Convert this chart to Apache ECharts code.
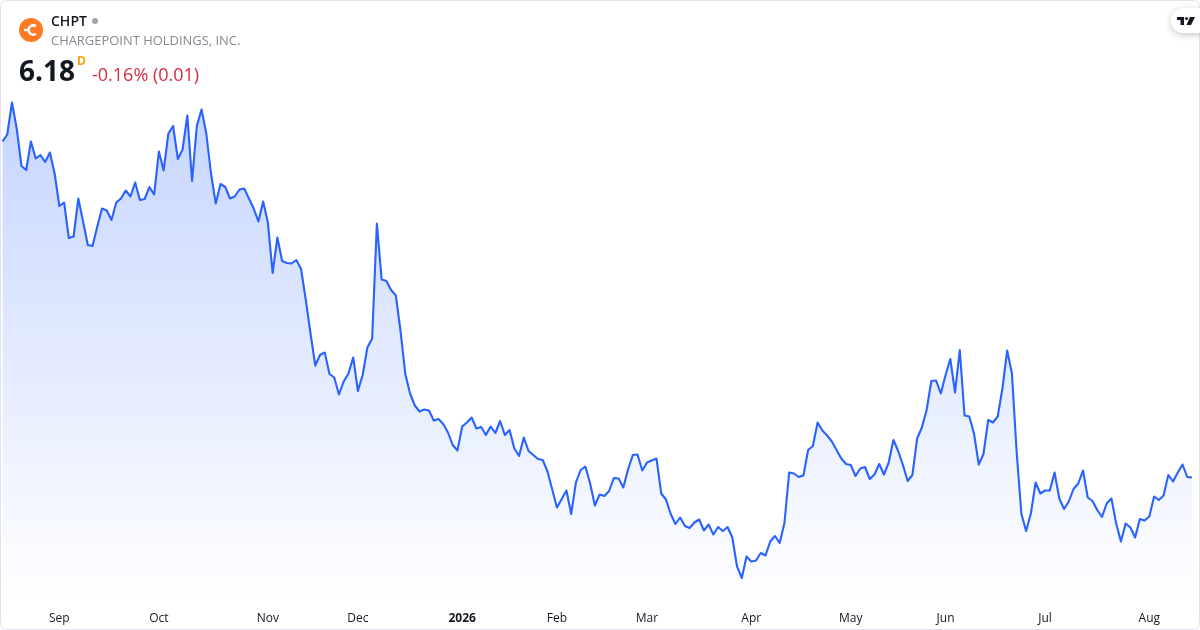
<!DOCTYPE html>
<html><head><meta charset="utf-8">
<style>html,body{margin:0;padding:0;background:#fff}#c{width:1200px;height:630px}</style>
<script src="https://cdn.jsdelivr.net/npm/echarts@6/dist/echarts.min.js"></script>
</head><body><div id="c"></div>
<script>
const ticker = 'CHPT';
const companyName = 'CHARGEPOINT HOLDINGS, INC.';
const lastPrice = '6.18';
const changeText = '-0.16% (0.01)';
const tickLabels = ['Sep','Oct','Nov','Dec','2026','Feb','Mar','Apr','May','Jun','Jul','Aug'];
const tickIndexes = [12,33,56,75,97,117,136,158,179,199,220,242];
const closes = [
12.90,13.04,13.68,13.16,12.41,12.33,12.90,12.56,12.63,12.49,12.68,12.26,
11.61,11.68,10.97,11.00,11.76,11.30,10.83,10.81,11.20,11.56,11.52,11.33,11.68,11.76,11.92,11.80,12.08,11.73,11.75,11.99,11.84,
12.70,12.32,13.06,13.21,12.55,12.74,13.42,12.11,13.21,13.54,13.06,12.26,11.66,12.05,11.99,11.76,11.80,11.94,11.96,11.76,11.56,11.30,11.70,
11.28,10.27,10.98,10.51,10.47,10.46,10.53,10.35,9.73,9.06,8.42,8.63,8.68,8.25,8.18,7.84,8.10,8.26,8.58,
7.91,8.23,8.78,8.96,11.26,10.14,10.11,9.93,9.82,9.10,8.25,7.86,7.62,7.50,7.54,7.52,7.32,7.35,7.25,7.08,6.83,6.72,
7.20,7.28,7.38,7.16,7.19,7.03,7.20,7.07,7.31,7.03,7.13,6.76,6.61,6.98,6.71,6.63,6.55,6.53,6.30,5.94,
5.58,5.75,5.92,5.45,6.08,6.33,6.40,6.06,5.62,5.84,5.81,5.91,6.17,6.16,5.98,6.34,6.63,6.64,6.32,
6.48,6.52,6.56,5.86,5.74,5.45,5.25,5.38,5.21,5.17,5.28,5.34,5.12,5.24,5.04,5.19,5.11,5.19,4.98,4.40,4.17,4.60,
4.50,4.52,4.67,4.62,4.90,5.01,4.87,5.27,6.28,6.26,6.19,6.22,6.73,6.81,7.28,7.12,7.02,6.90,6.73,6.56,6.45,
6.43,6.21,6.36,6.39,6.15,6.24,6.45,6.24,6.48,6.93,6.71,6.43,6.11,6.23,6.96,7.18,7.53,8.11,8.12,7.86,
8.23,8.55,7.88,8.73,7.42,7.40,7.06,6.44,6.65,7.33,7.28,7.40,7.96,8.72,8.26,6.69,5.45,5.11,5.46,6.08,5.86,
5.92,5.92,6.28,5.76,5.55,5.70,5.95,6.06,6.32,5.78,5.71,5.53,5.39,5.66,5.76,5.26,4.90,5.26,5.18,4.98,5.35,5.32,
5.40,5.80,5.73,5.82,6.23,6.10,6.28,6.44,6.19,6.18
];
const categories = closes.map((_, i) => {
  const k = tickIndexes.indexOf(i);
  return k >= 0 ? tickLabels[k] : '';
});
const chart = echarts.init(document.getElementById('c'), null, {renderer:'canvas', width:1200, height:630});
const FONT = '"Open Sans","Noto Sans",sans-serif';
chart.setOption({
  animation:false,
  backgroundColor:'#ffffff',
  grid:{left:2.5, right:8, top:0, height:602, containLabel:false},
  tooltip:{show:false},
  xAxis:{
    type:'category', data:categories, boundaryGap:false,
    axisLine:{show:false}, axisTick:{show:false}, splitLine:{show:false},
    axisLabel:{
      show:true, margin:11, color:'#131722', fontFamily:FONT, fontSize:12, hideOverlap:false,
      interval:(i, v) => v !== '',
      formatter:v => v === '2026' ? '{b|2026}' : v,
      rich:{b:{fontWeight:'bold', color:'#131722', fontFamily:FONT, fontSize:12}}
    }
  },
  yAxis:{type:'value', min:3.69, max:15.73, show:false, splitLine:{show:false}},
  series:[{
    type:'line', data:closes, showSymbol:false, smooth:false, silent:true,
    lineStyle:{color:'#2962ff', width:2.1, join:'round'},
    areaStyle:{origin:'start', color:new echarts.graphic.LinearGradient(0,0,0,1,[
      {offset:0, color:'rgba(41,98,255,0.38)'},
      {offset:1, color:'rgba(41,98,255,0)'}
    ])}
  }],
  graphic:[
    {type:'rect', z:100, silent:true, shape:{x:0.5,y:0.5,width:1199,height:629,r:6}, style:{fill:'none',stroke:'#e0e3eb',lineWidth:1}},
    {type:'circle', z:100, shape:{cx:31,cy:30,r:12}, style:{fill:'#ff7a26'}},
    {type:'arc', z:101, shape:{cx:33.2,cy:30,r:4.6,startAngle:Math.PI*0.3,endAngle:Math.PI*1.7,clockwise:true}, style:{stroke:'#fff',lineWidth:2.6,fill:'none'}},
    {type:'rect', z:102, shape:{x:24,y:28.8,width:6,height:2.4}, style:{fill:'#fff'}},
    {type:'text', z:100, style:{x:51,y:22,text:ticker,fill:'#131722',font:'600 14px '+FONT,textVerticalAlign:'middle'}},
    {type:'circle', z:100, shape:{cx:95,cy:21,r:3}, style:{fill:'#a0a3ab'}},
    {type:'text', z:100, style:{x:51,y:41,text:companyName,fill:'#868993',font:'12.95px '+FONT,textVerticalAlign:'middle'}},
    {type:'text', z:100, style:{x:19,y:73,text:lastPrice,fill:'#131722',font:'bold 28px '+FONT,textVerticalAlign:'middle'}},
    {type:'text', z:100, style:{x:77,y:62,text:'D',fill:'#f89f0e',font:'bold 12px '+FONT,textVerticalAlign:'middle'}},
    {type:'text', z:100, style:{x:92,y:76,text:changeText,fill:'#d92b40',font:'18px '+FONT,textVerticalAlign:'middle'}},
    {type:'rect', z:100, shape:{x:1171,y:8,width:40,height:25,r:12}, style:{fill:'#fff',shadowBlur:7,shadowColor:'rgba(0,0,0,0.22)',shadowOffsetY:2}},
    {type:'polygon', z:101, shape:{points:[[1177,17],[1184,17],[1184,25],[1180.5,25],[1180.5,20],[1177,20]]}, style:{fill:'#131722'}},
    {type:'circle', z:101, shape:{cx:1186.5,cy:18.5,r:1.6}, style:{fill:'#131722'}},
    {type:'polygon', z:101, shape:{points:[[1190,17],[1195,17],[1191,25],[1186.5,25]]}, style:{fill:'#131722'}}
  ]
});
</script></body></html>
